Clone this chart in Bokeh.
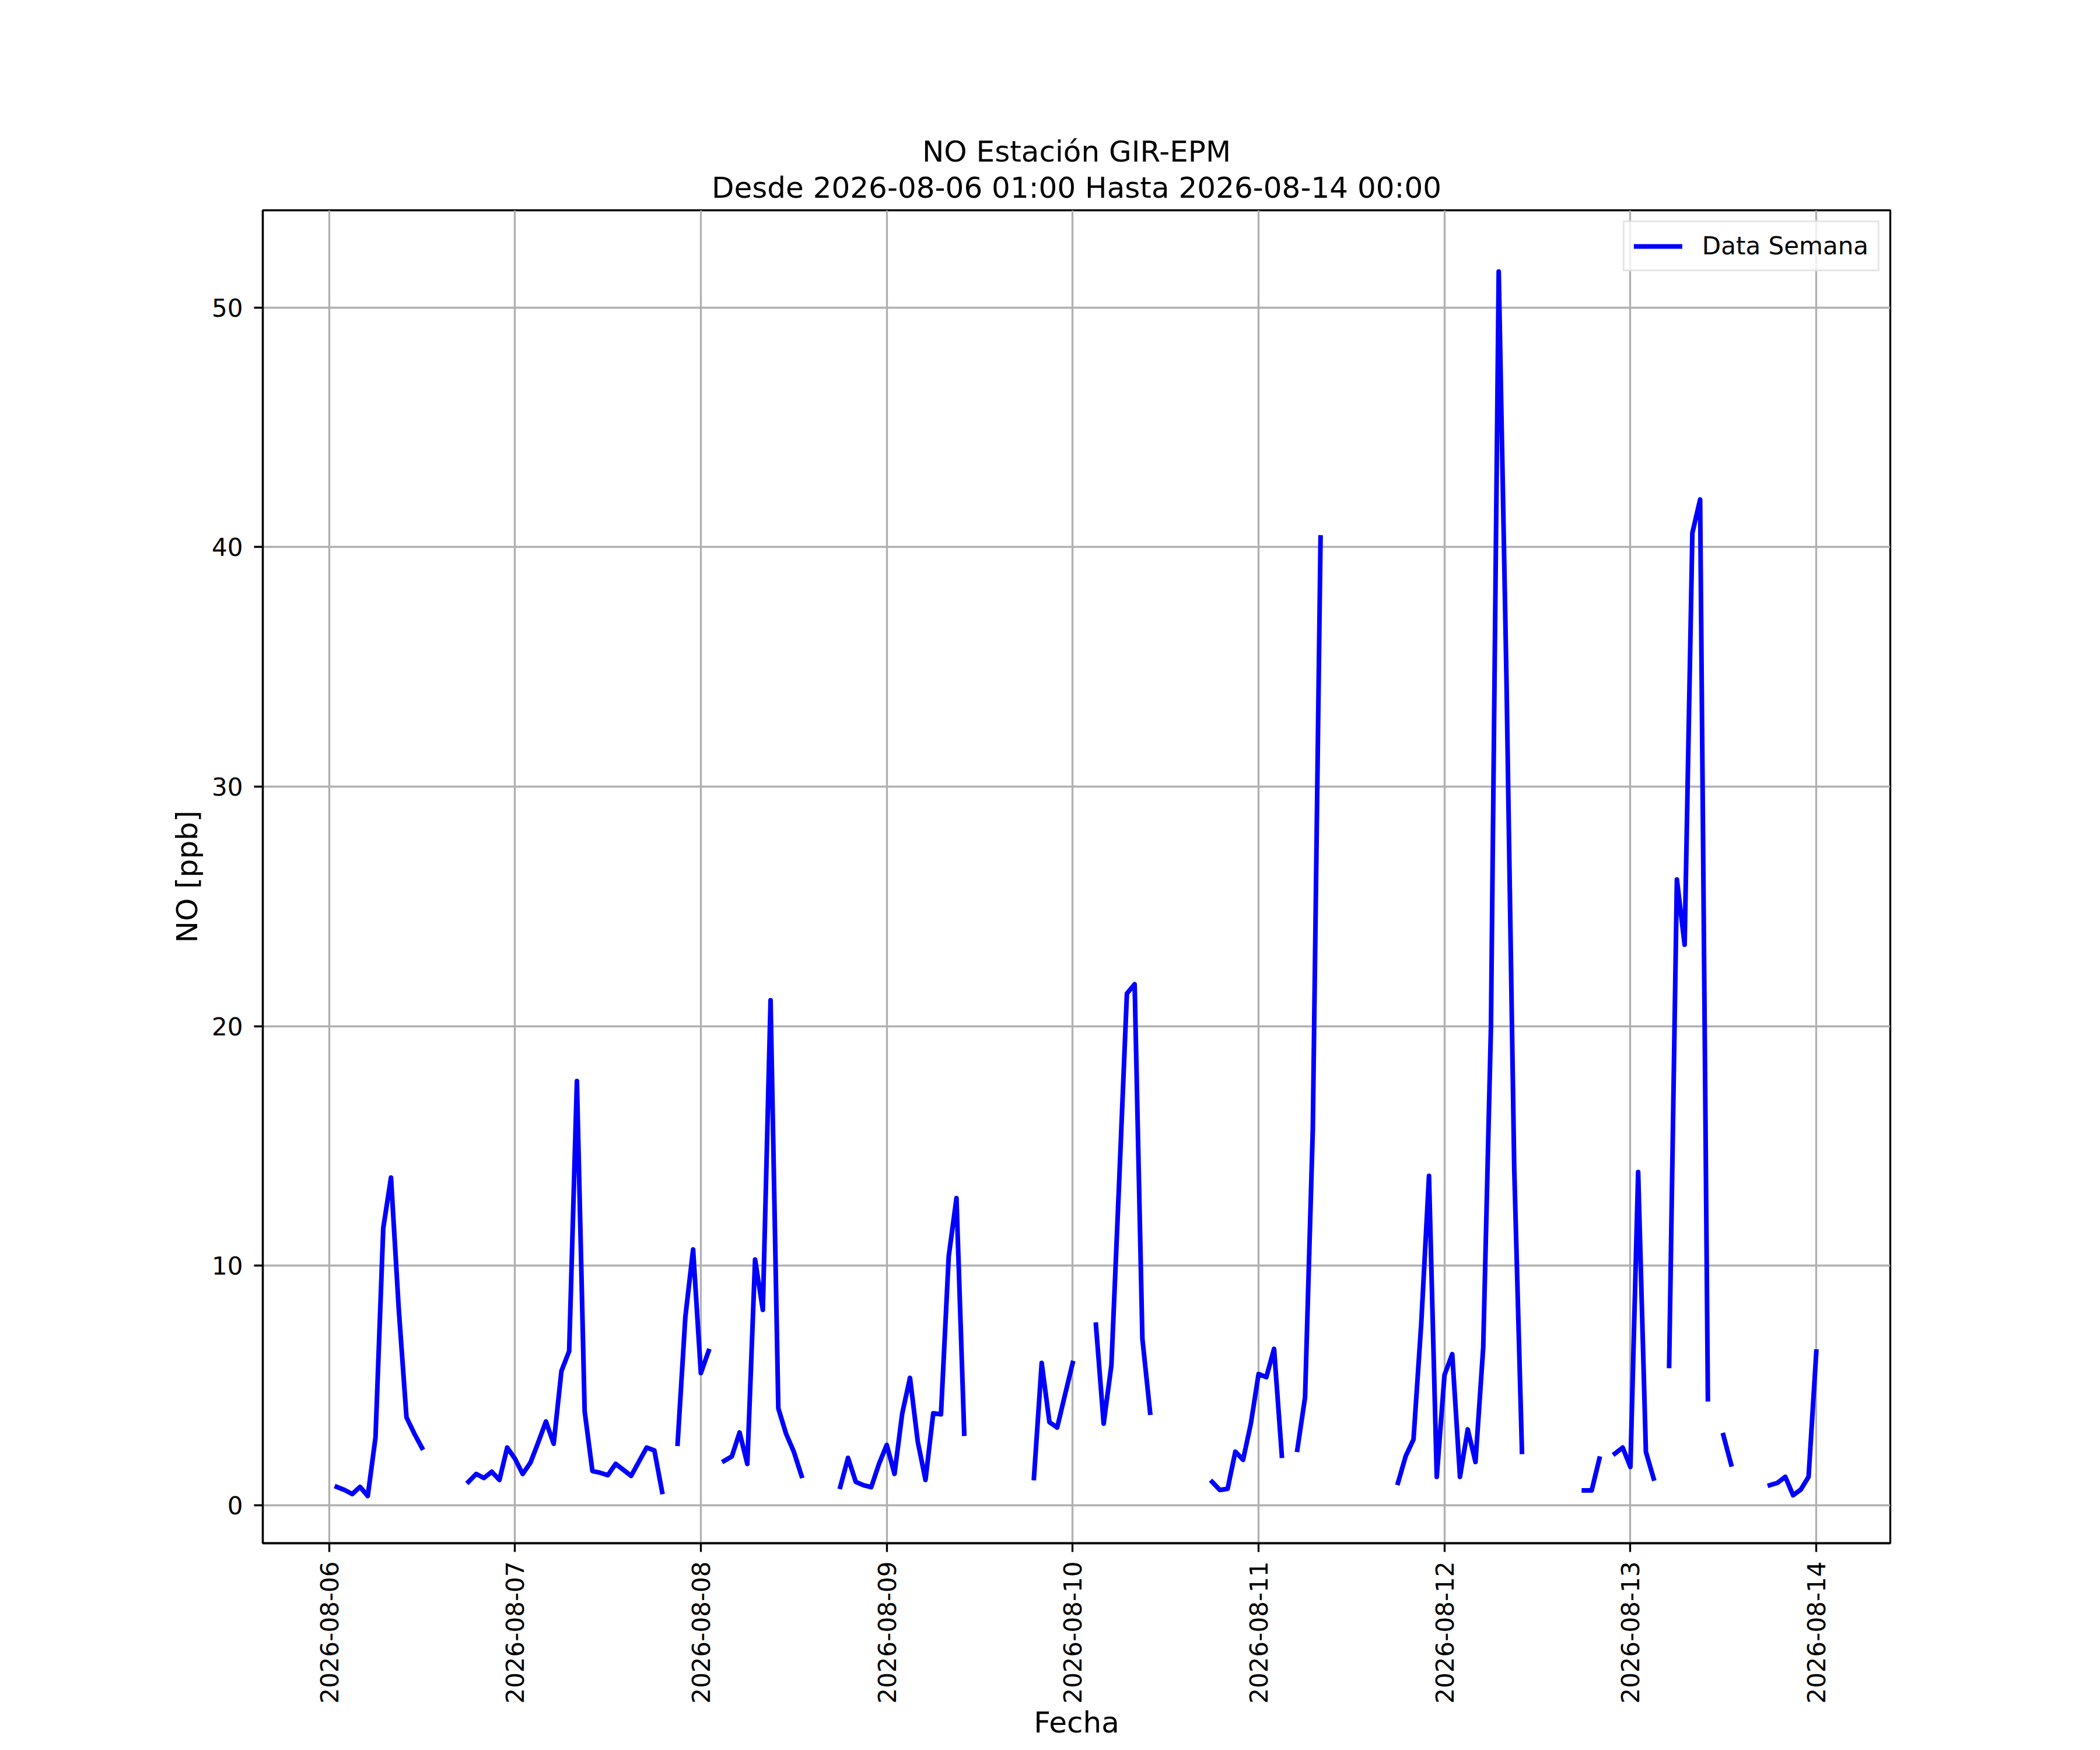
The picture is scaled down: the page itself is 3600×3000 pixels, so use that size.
import numpy as np
import pandas as pd
from bokeh.plotting import figure
from bokeh.models import (ColumnDataSource, Range1d, FixedTicker, DatetimeTickFormatter,
                          Title, Legend, LegendItem)
from bokeh.embed import file_html
from bokeh.resources import INLINE

nan = float("nan")

# Hourly NO values [ppb]; each list = 24 hours (01:00 .. 00:00 next day)
day_0806 = [0.77, 0.64, 0.47, 0.77, 0.39, 2.83, 11.57, 13.68, 8.2, 3.67, 3.0, 2.4,
            nan, nan, nan, nan, nan, 0.98, 1.31, 1.14, 1.40, 1.06, 2.41, 1.95]
day_0807 = [1.31, 1.78, 2.62, 3.50, 2.57, 5.60, 6.44, 17.71, 3.92, 1.43, 1.36, 1.26,
            1.73, 1.48, 1.23, 1.82, 2.41, 2.29, 0.56, nan, 2.57, 7.87, 10.68, 5.52]
day_0808 = [6.44, nan, 1.85, 2.04, 3.04, 1.73, 10.26, 8.16, 21.08, 4.05, 2.99, 2.24,
            1.23, nan, nan, nan, nan, 0.77, 1.98, 0.98, 0.84, 0.76, 1.73, 2.52]
day_0809 = [1.31, 3.84, 5.32, 2.66, 1.06, 3.84, 3.80, 10.40, 12.82, 2.99, nan, nan,
            nan, nan, nan, nan, nan, nan, 1.14, 5.94, 3.47, 3.25, 4.6, 5.94]
day_0810 = [nan, nan, 7.54, 3.41, 5.85, 13.5, 21.36, 21.75, 6.95, 3.87, nan, nan,
            nan, nan, nan, nan, nan, 0.98, 0.64, 0.69, 2.24, 1.90, 3.41, 5.48]
day_0811 = [5.35, 6.53, 2.07, nan, 2.32, 4.51, 15.7, 40.4, nan, nan, nan, nan,
            nan, nan, nan, nan, nan, 0.94, 2.06, 2.75, 7.6, 13.75, 1.19, 5.44]
day_0812 = [6.31, 1.19, 3.17, 1.81, 6.59, 20.01, 51.5, 34.5, 14.09, 2.23, nan, nan,
            nan, nan, nan, nan, nan, 0.62, 0.62, 1.95, nan, 2.16, 2.41, 1.60]
day_0813 = [13.91, 2.23, 1.12, nan, 5.82, 26.12, 23.40, 40.59, 41.98, 4.43, nan, 2.93,
            1.71, nan, nan, nan, nan, 0.84, 0.94, 1.19, 0.42, 0.66, 1.19, 6.42]

values = (day_0806 + day_0807 + day_0808 + day_0809 +
          day_0810 + day_0811 + day_0812 + day_0813)
times = pd.date_range("2026-08-06 01:00", periods=len(values), freq="h")

tick_labels = ["2026-08-06", "2026-08-07", "2026-08-08", "2026-08-09", "2026-08-10",
               "2026-08-11", "2026-08-12", "2026-08-13", "2026-08-14"]
y_ticks = [0, 10, 20, 30, 40, 50]

title_line1 = "NO Estación GIR-EPM"
title_line2 = "Desde 2026-08-06 01:00 Hasta 2026-08-14 00:00"


def to_ms(ts):
    return float((pd.Timestamp(ts) - pd.Timestamp("1970-01-01")) / pd.Timedelta("1ms"))


t0 = to_ms(times[0])
t1 = to_ms(times[-1])
pad = (t1 - t0) * 0.05
vals = np.array(values, dtype=float)
vmin, vmax = np.nanmin(vals), np.nanmax(vals)
vpad = (vmax - vmin) * 0.05

FONT = "DejaVu Sans"
W, H = 3584, 2984
B_LEFT, B_TOP = 450, 360
FRAME_W = 2790
REF_FRAME_H = 2310                  # frame height of the reference
B_BOTTOM_NEEDED = 338               # room the bottom axis needs in Bokeh
frame_h = H - B_TOP - B_BOTTOM_NEEDED
y_top = vmax + vpad
px_per_unit = REF_FRAME_H / ((vmax + vpad) - (vmin - vpad))
y_bottom = y_top - frame_h / px_per_unit

p = figure(width=W, height=H, x_axis_type="datetime", output_backend="svg",
           toolbar_location=None,
           x_range=Range1d(t0 - pad, t1 + pad),
           y_range=Range1d(y_bottom, y_top),
           min_border_left=B_LEFT, min_border_right=W - B_LEFT - FRAME_W,
           min_border_top=B_TOP, min_border_bottom=H - B_TOP - frame_h)

p.background_fill_color = "white"
p.border_fill_color = "white"
p.outline_line_color = "black"
p.outline_line_width = 3.3

src = ColumnDataSource(data=dict(t=times.values, v=vals))
r = p.line("t", "v", source=src, line_color="#0000ff", line_width=8,
           line_join="round", line_cap="square")

# Titles (bottom line first so it sits closest to the frame)
p.add_layout(Title(text=title_line2, align="center", text_font=FONT, text_font_size="50px",
                   text_font_style="normal", text_color="black", standoff=19), "above")
p.add_layout(Title(text=title_line1, align="center", text_font=FONT, text_font_size="50px",
                   text_font_style="normal", text_color="black", standoff=-15), "above")

# Axes
p.xaxis.ticker = FixedTicker(ticks=[to_ms(s) for s in tick_labels])
fmt = "%Y-%m-%d"
p.xaxis.formatter = DatetimeTickFormatter(
    microseconds=fmt, milliseconds=fmt, seconds=fmt, minsec=fmt, minutes=fmt,
    hourmin=fmt, hours=fmt, days=fmt, months=fmt, years=fmt)
p.xaxis.major_label_orientation = np.pi / 2
p.yaxis.ticker = FixedTicker(ticks=y_ticks)

p.xaxis.axis_label = "Fecha"
p.yaxis.axis_label = "NO [ppb]"

for ax in (p.xaxis[0], p.yaxis[0]):
    ax.axis_line_color = "black"
    ax.axis_line_width = 3.3
    ax.major_tick_line_color = "black"
    ax.major_tick_line_width = 3.3
    ax.major_tick_out = 15
    ax.major_tick_in = 0
    ax.minor_tick_line_color = None
    ax.major_label_text_font = FONT
    ax.major_label_text_font_size = "42px"
    ax.major_label_text_color = "black"
    ax.axis_label_text_font = FONT
    ax.axis_label_text_font_size = "50px"
    ax.axis_label_text_font_style = "normal"
    ax.axis_label_text_color = "black"

p.xaxis.major_label_standoff = 16
p.xaxis.axis_label_standoff = 0
p.xaxis.axis_label_text_line_height = 1.0
p.yaxis.major_label_standoff = 19
p.yaxis.axis_label_standoff = 10

# Grid
for g in (p.xgrid[0], p.ygrid[0]):
    g.grid_line_color = "#b0b0b0"
    g.grid_line_width = 3.3

# Legend
legend = Legend(items=[LegendItem(label="Data Semana", renderers=[r])],
                location="top_right", margin=18, padding=16, spacing=0,
                glyph_width=83, glyph_height=42, label_height=42, label_standoff=34,
                label_text_font=FONT, label_text_font_size="42px", label_text_color="black",
                border_line_color="#cccccc", border_line_width=3.3,
                background_fill_color="white", background_fill_alpha=0.8)
p.add_layout(legend)

open("out.html", "w").write(file_html(p, INLINE))
